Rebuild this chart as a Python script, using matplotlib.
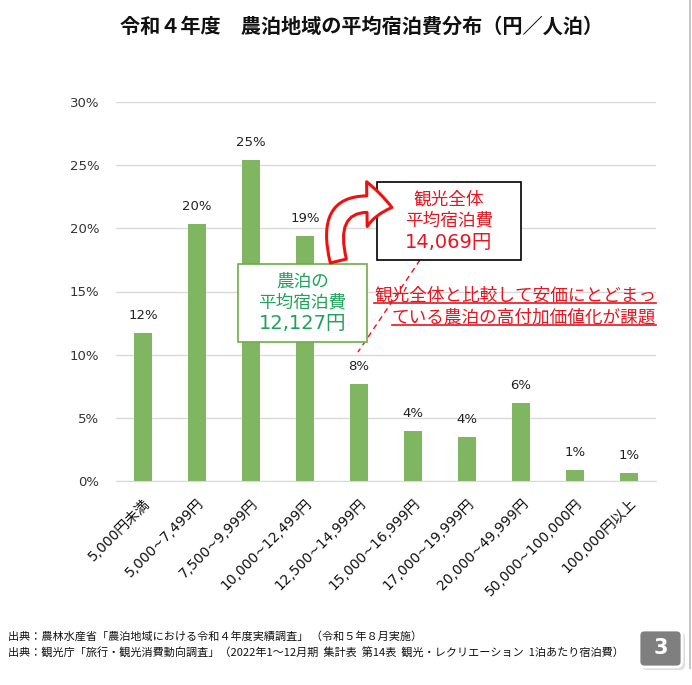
import matplotlib
matplotlib.use("Agg")
import matplotlib.pyplot as plt
from matplotlib.patches import Rectangle, FancyArrowPatch, FancyBboxPatch
from matplotlib.lines import Line2D

# latin digits in DejaVu (wide like the original), kanji fall back to Noto CJK
plt.rcParams['font.family'] = ['DejaVu Sans', 'Noto Sans CJK JP']
CJK = ['Noto Sans CJK JP', 'DejaVu Sans']

categories = ["5,000円未満", "5,000~7,499円", "7,500~9,999円", "10,000~12,499円",
              "12,500~14,999円", "15,000~16,999円", "17,000~19,999円",
              "20,000~49,999円", "50,000~100,000円", "100,000円以上"]
shares = [11.7, 20.35, 25.4, 19.4, 7.7, 3.96, 3.5, 6.15, 0.85, 0.6]
share_labels = ["12%", "20%", "25%", "19%", "8%", "4%", "4%", "6%", "1%", "1%"]
yticks = [0, 5, 10, 15, 20, 25, 30]

title = "令和４年度　農泊地域の平均宿泊費分布（円／人泊）"
green_lines = ["農泊の", "平均宿泊費", "12,127円"]
red_lines = ["観光全体", "平均宿泊費", "14,069円"]
note_lines = ["観光全体と比較して安価にとどまっ", "ている農泊の高付加価値化が課題"]
sources = ["出典：農林水産省「農泊地域における令和４年度実績調査」 （令和５年８月実施）",
           "出典：観光庁「旅行・観光消費動向調査」（2022年1～12月期  集計表  第14表  観光・レクリエーション  1泊あたり宿泊費）"]

W, H = 692, 685
fig = plt.figure(figsize=(W / 100, H / 100), dpi=100)
ax = fig.add_axes([116 / W, 1 - 481 / H, 540 / W, 379 / H])

x = list(range(len(categories)))
ax.bar(x, shares, width=0.32, color="#80b562", zorder=2)
for xi, v, lab in zip(x, shares, share_labels):
    ax.annotate(lab, (xi, v), xytext=(0, 8), textcoords="offset points",
                ha="center", va="bottom", fontsize=9.5, color="#222222")

ax.set_xlim(-0.5, len(categories) - 0.5)
ax.set_ylim(0, 30)
ax.set_yticks(yticks)
ax.set_yticklabels([f"{t}%" for t in yticks], fontsize=9.5, color="#333333")
ax.yaxis.grid(True, color="#d9d9d9", lw=1, zorder=0)
ax.set_xticks(x)
ax.set_xticklabels(categories, rotation=45, ha="right", rotation_mode="anchor",
                   fontsize=10, color="#111111")
ax.tick_params(axis="y", length=0, pad=12)
ax.tick_params(axis="x", length=0, pad=11)
for s in ["top", "right", "left"]:
    ax.spines[s].set_visible(False)
ax.spines["bottom"].set_color("#d9d9d9")

fig.text(0.522, 1 - 26 / H, title, ha="center", va="center", fontsize=14.5,
         fontweight="bold", color="#111111", family=CJK)

# boxes with three-line labels
line_dy = [1.65, 0, -1.7]
ax.add_patch(Rectangle((1.76, 11.0), 2.39, 6.18, fc="white", ec="#70ad47",
                       lw=1.2, zorder=5, clip_on=False))
for i, (line, dy) in enumerate(zip(green_lines, line_dy)):
    ax.text(2.955, 14.15 + dy, line, ha="center", va="center",
            fontsize=14 if i == 2 else 12.7, color="#1fa35a", zorder=6,
            clip_on=False, family=None if i == 2 else CJK)

ax.add_patch(Rectangle((4.33, 17.5), 2.67, 6.2, fc="white", ec="black",
                       lw=1.2, zorder=5, clip_on=False))
for i, (line, dy) in enumerate(zip(red_lines, line_dy)):
    ax.text(5.665, 20.6 + dy, line, ha="center", va="center",
            fontsize=14 if i == 2 else 12.7, color="#e8141e", zorder=6,
            clip_on=False, family=None if i == 2 else CJK)

# curved arrow
arrow = FancyArrowPatch((3.63, 17.2), (4.66, 21.6),
                        connectionstyle="arc3,rad=-0.85",
                        arrowstyle="simple,head_width=2.3,head_length=1.3,tail_width=0.85",
                        mutation_scale=14, fc="white", ec="#ee1111", lw=2.2,
                        zorder=7, clip_on=False)
ax.add_patch(arrow)

# dashed pointer
ax.plot([5.13, 3.98], [17.5, 10.2], color="#e8141e", lw=1, ls=(0, (4, 3)),
        zorder=4, clip_on=False)

# red underlined note
note_y = [14.7, 12.95]
for line, ny in zip(note_lines, note_y):
    t = ax.text(9.5, ny, line, ha="right", va="center", fontsize=12.7,
                color="#e8141e", zorder=6, clip_on=False, family=CJK)
    fig.canvas.draw()
    bb = t.get_window_extent().transformed(fig.transFigure.inverted())
    fig.add_artist(Line2D([bb.x0, bb.x1], [bb.y0 + 1.5 / H, bb.y0 + 1.5 / H],
                          color="#e8141e", lw=1.2))

# sources
for i, s in enumerate(sources):
    fig.text(8 / W, 1 - (636 + 17 * i) / H, s, ha="left", va="center",
             fontsize=8, color="#111111", family=CJK)

# page number box
fig.add_artist(FancyBboxPatch((641 / W, 1 - 670 / H), 44 / W, 38 / H,
                              boxstyle="round,pad=0,rounding_size=0.008",
                              fc="#dddddd", ec="none", transform=fig.transFigure))
fig.add_artist(FancyBboxPatch((639 / W, 1 - 667 / H), 43 / W, 37 / H,
                              boxstyle="round,pad=0,rounding_size=0.008",
                              fc="#7f7f7f", ec="white", lw=2, transform=fig.transFigure))
fig.text(660.5 / W, 1 - 648.5 / H, "3", ha="center", va="center", fontsize=15,
         fontweight="bold", color="white")

# slide border
fig.add_artist(Line2D([690 / W, 690 / W], [1 - 668 / H, 1], color="#c8c8c8", lw=1.5))

fig.savefig("out.png", dpi=100)
